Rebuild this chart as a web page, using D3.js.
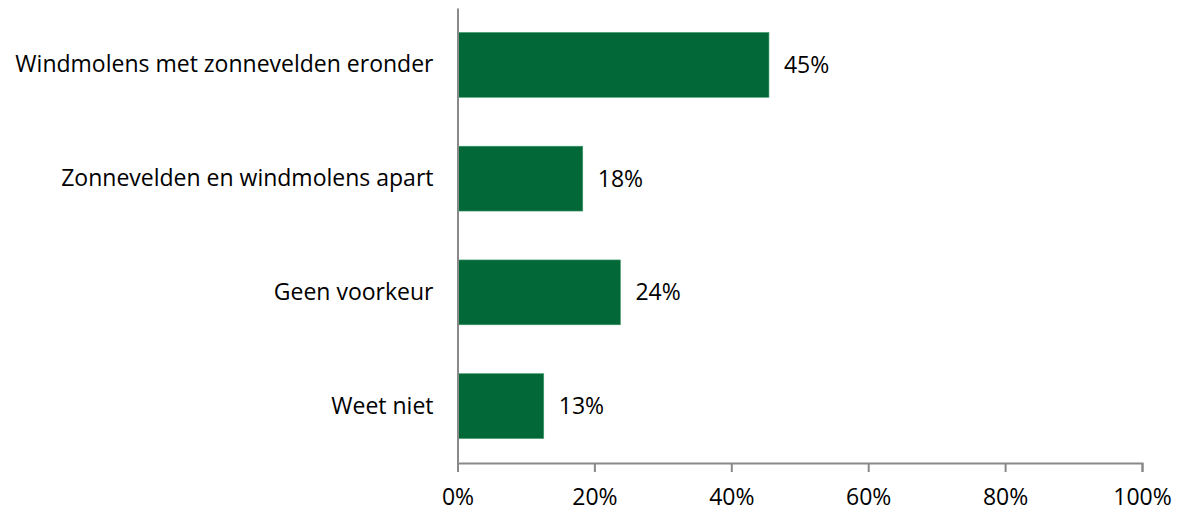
<!DOCTYPE html>
<html>
<head>
<meta charset="utf-8">
<script src="https://cdn.jsdelivr.net/npm/d3@7"></script>
<style>
  body { margin: 0; background: #fff; }
  svg text { font-family: "Open Sans", "Noto Sans", sans-serif; fill: #000; }
</style>
</head>
<body>
<div id="chart"></div>
<script>
var categories = ["Windmolens met zonnevelden eronder", "Zonnevelden en windmolens apart", "Geen voorkeur", "Weet niet"];
var values = [45.5, 18.3, 23.8, 12.6];
var valueLabels = ["45%", "18%", "24%", "13%"];
var xTicks = [0, 20, 40, 60, 80, 100];

var width = 1178, height = 511;
var margin = {top: 8, right: 36, bottom: 48, left: 457.5};
var plotW = width - margin.left - margin.right,
    plotH = height - margin.top - margin.bottom;
var fontSize = "23px";

var svg = d3.select("#chart")
  .append("svg")
  .attr("width", width)
  .attr("height", height)
  .append("g")
  .attr("transform", "translate(" + margin.left + "," + margin.top + ")");

var x = d3.scaleLinear().domain([0, 100]).range([0, plotW]);
var y = d3.scaleBand().domain(categories).range([0, plotH])
  .paddingInner(0.43).paddingOuter(0.215);

// bars
svg.append("g")
  .selectAll("rect")
  .data(categories)
  .enter()
  .append("rect")
  .attr("x", 0)
  .attr("y", function(d) { return y(d); })
  .attr("width", function(d, i) { return x(values[i]); })
  .attr("height", y.bandwidth())
  .attr("fill", "#036837")
  .attr("stroke", "#3f9a6b")
  .attr("stroke-width", 0.6);

// value labels
svg.append("g")
  .selectAll("text")
  .data(categories)
  .enter()
  .append("text")
  .attr("x", function(d, i) { return x(values[i]) + 15; })
  .attr("y", function(d) { return y(d) + y.bandwidth() / 2; })
  .attr("dy", "0.35em")
  .style("font-size", fontSize)
  .text(function(d, i) { return valueLabels[i]; });

// x axis
var xAxis = svg.append("g")
  .attr("transform", "translate(0," + plotH + ")")
  .call(d3.axisBottom(x).tickValues(xTicks).tickSize(9).tickPadding(17)
    .tickFormat(function(d) { return d + "%"; }));
xAxis.select(".domain").attr("stroke", "#898989").attr("stroke-width", 2);
xAxis.selectAll(".tick line").attr("stroke", "#898989").attr("stroke-width", 2);
xAxis.selectAll(".tick text").style("font-size", fontSize).attr("fill", "#000");

// y axis
var yAxis = svg.append("g")
  .call(d3.axisLeft(y).tickSize(0).tickPadding(24));
yAxis.select(".domain").attr("stroke", "#898989").attr("stroke-width", 2);
yAxis.selectAll(".tick text").style("font-size", fontSize).attr("fill", "#000");
</script>
</body>
</html>
